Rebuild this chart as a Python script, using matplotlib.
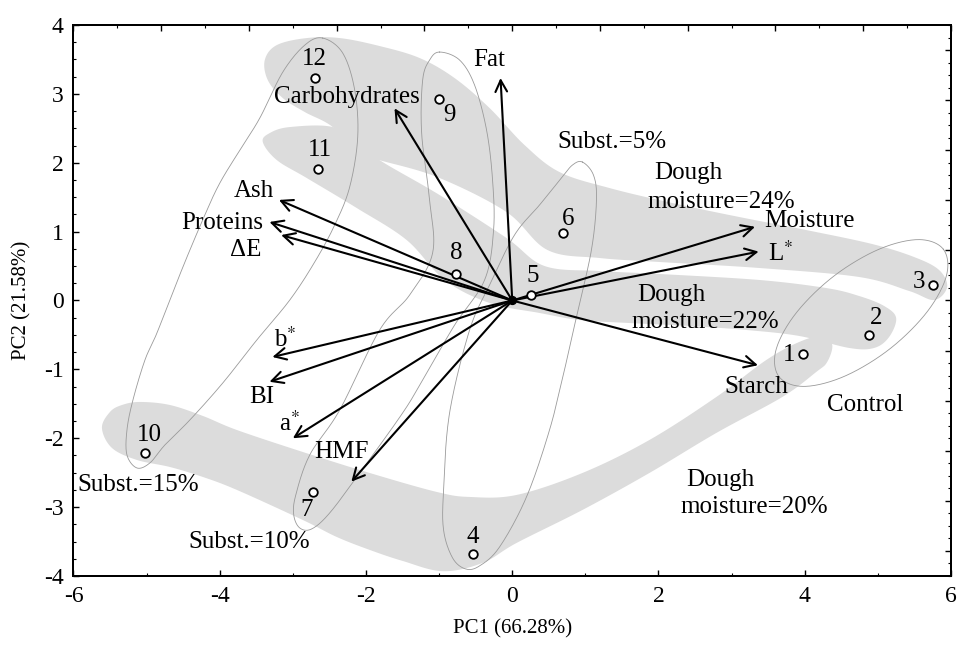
import numpy as np
import matplotlib
matplotlib.use("Agg")
import matplotlib.pyplot as plt
from matplotlib.ticker import MultipleLocator, NullFormatter

plt.rcParams['font.family'] = ['Liberation Serif', 'DejaVu Serif']
plt.rcParams['mathtext.fontset'] = 'stix'
plt.rcParams['axes.unicode_minus'] = False

# ---------------- data ----------------
sample_ids = ['1', '2', '3', '4', '5', '6', '7', '8', '9', '10', '11', '12']
pc1 = [3.97, 4.88, 5.76, -0.53, 0.25, 0.69, -2.73, -0.77, -1.00, -5.02, -2.65, -2.70]
pc2 = [-0.77, -0.50, 0.22, -3.68, 0.08, 0.98, -2.78, 0.39, 2.92, -2.21, 1.91, 3.23]

var_names = ['Fat', 'Carbohydrates', 'Ash', 'Proteins', '\u0394E', 'Moisture',
             'L$^{*}$', 'Starch', 'b$^{*}$', 'BI', 'a$^{*}$', 'HMF']
load1 = [-0.16, -1.61, -3.19, -3.32, -3.16, 3.32, 3.37, 3.36, -3.28, -3.32, -3.00, -2.20]
load2 = [3.23, 2.79, 1.46, 1.14, 0.95, 1.07, 0.71, -0.94, -0.82, -1.18, -2.00, -2.63]

# ---------------- annotation positions ----------------
sample_lab_x = [3.79, 4.97, 5.56, -0.54, 0.28, 0.76, -2.81, -0.77, -0.86, -4.96, -2.63, -2.70]
sample_lab_y = [-0.79, -0.26, 0.27, -3.43, 0.35, 1.19, -3.04, 0.69, 2.69, -1.95, 2.18, 3.50]

var_lab_x = [-0.31, -2.26, -3.53, -3.96, -3.65, 4.06, 3.67, 3.34, -3.11, -3.42, -3.04, -2.33]
var_lab_y = [3.49, 2.96, 1.59, 1.12, 0.73, 1.16, 0.68, -1.25, -0.57, -1.40, -1.78, -2.20]

group_texts = [
    ('Subst.=5%', 1.357, 2.305, 'center'),
    ('Dough', 1.946, 1.846, 'left'),
    ('moisture=24%', 1.850, 1.434, 'left'),
    ('Dough', 1.712, 0.080, 'left'),
    ('moisture=22%', 1.630, -0.308, 'left'),
    ('Dough', 2.381, -2.605, 'left'),
    ('moisture=20%', 2.299, -2.993, 'left'),
    ('Control', 4.833, -1.517, 'center'),
    ('Subst.=15%', -5.119, -2.678, 'center'),
    ('Subst.=10%', -3.602, -3.501, 'center'),
]

# grey bands (dough moisture groups), outline vertices in data units
band24_x = [-3.384, -3.220, -2.810, -2.359, -1.813, -1.266, -0.788, -0.310, 0.168, 0.646, 1.329, 2.190,
            3.105, 4.020, 4.922, 5.496, 5.837, 5.947, 5.770, 5.428, 4.745, 3.378, 2.012, 1.193, 0.482,
            -0.078, -0.993, -1.772, -2.113, -2.455, -2.837, -3.138, -3.343]
band24_y = [3.491, 3.708, 3.810, 3.810, 3.694, 3.520, 3.229, 2.794, 2.257, 1.865, 1.633, 1.415,
            1.212, 1.023, 0.820, 0.631, 0.443, 0.196, 0.007, 0.138, 0.341, 0.472, 0.559, 0.617, 0.733,
            1.284, 1.778, 2.025, 2.112, 2.518, 2.736, 2.939, 3.200]
band22_x = [-3.411, -3.316, -3.042, -2.455, -2.086, -1.772, -0.993, -0.078, 0.441, 1.193, 2.012, 3.378,
            4.294, 4.745, 5.086, 5.250, 5.154, 4.949, 4.608, 3.925, 3.201, 2.422, 1.602, 0.919, 0.373,
            -0.310, -0.925, -1.444, -2.127, -2.810, -3.220]
band22_y = [2.300, 2.431, 2.518, 2.518, 2.257, 2.010, 1.531, 0.907, 0.501, 0.428, 0.385, 0.298,
            0.181, 0.065, -0.080, -0.254, -0.530, -0.689, -0.689, -0.515, -0.428, -0.370, -0.327, -0.283,
            -0.181, -0.036, 0.298, 0.878, 1.343, 1.778, 2.039]
band20_x = [-5.611, -5.501, -5.337, -5.092, -4.682, -4.231, -3.766, -2.865, -1.949, -1.034, -0.583, 0.059,
            0.960, 1.876, 2.791, 3.474, 3.925, 4.239, 4.376, 4.307, 4.157, 3.693, 2.791, 1.876, 0.960,
            0.059, -0.406, -0.950, -1.499, -1.949, -2.400, -2.865, -3.766, -4.231, -4.682, -5.133, -5.474]
band20_y = [-1.851, -1.618, -1.517, -1.473, -1.517, -1.676, -1.880, -2.199, -2.504, -2.779, -2.852, -2.823,
            -2.504, -2.025, -1.401, -0.864, -0.602, -0.515, -0.646, -0.893, -1.038, -1.401, -1.923, -2.504,
            -3.041, -3.520, -3.810, -3.930, -3.781, -3.621, -3.433, -3.186, -2.750, -2.562, -2.417, -2.315,
            -2.141]

# thin outlines (substitution groups)
ctrl_x = [5.895, 5.937, 5.667, 5.157, 4.544, 3.992, 3.649, 3.607, 3.877, 4.387, 5.000, 5.552]
ctrl_y = [0.745, 0.356, -0.174, -0.708, -1.100, -1.247, -1.107, -0.718, -0.189, 0.345, 0.737, 0.884]
s5_x = [0.960, 1.111, 1.152, 1.083, 0.878, 0.714, 0.510, 0.195, -0.173, -0.447, -0.638, -0.816, -0.939,
        -0.939, -0.857, -0.583, -0.310, 0.031, 0.373, 0.673, 0.824]
s5_y = [2.010, 1.821, 1.459, 0.733, -0.239, -1.009, -1.880, -2.852, -3.578, -3.853, -3.897, -3.737, -3.331,
        -2.750, -1.633, -0.428, 0.225, 0.951, 1.386, 1.778, 1.967]
s10_x = [-0.993, -0.720, -0.515, -0.351, -0.269, -0.255, -0.378, -0.788, -1.225, -1.499, -2.086, -2.496,
         -2.742, -2.906, -2.988, -2.960, -2.769, -2.359, -1.813, -1.403, -1.089, -1.130, -1.239, -1.225, -1.130]
s10_y = [3.607, 3.491, 3.128, 2.475, 1.749, 1.023, 0.298, -0.356, -1.154, -1.633, -2.504, -3.084,
         -3.316, -3.302, -3.113, -2.823, -2.242, -1.589, -0.428, 0.080, 0.689, 1.459, 2.431, 3.200, 3.491]
s15_x = [-2.592, -2.318, -2.154, -2.113, -2.223, -2.428, -2.701, -3.042, -3.493, -3.958, -4.408, -4.750,
         -4.955, -5.133, -5.269, -5.269, -5.187, -5.023, -4.859, -4.504, -4.204, -3.999, -3.725, -3.452,
         -3.138, -2.837]
s15_y = [3.810, 3.592, 3.055, 2.373, 1.647, 1.096, 0.559, 0.007, -0.573, -1.197, -1.734, -2.097,
         -2.358, -2.431, -2.242, -1.880, -1.444, -0.864, -0.472, 0.486, 1.241, 1.705, 2.184, 2.649,
         3.316, 3.708]


def closed_spline(xs, ys, n=24):
    P = np.column_stack([xs, ys]).astype(float)
    N = len(P)
    t = np.linspace(0, 1, n, endpoint=False)[:, None]
    segs = []
    for i in range(N):
        p0, p1, p2, p3 = P[(i - 1) % N], P[i], P[(i + 1) % N], P[(i + 2) % N]
        seg = 0.5 * (2 * p1 + (-p0 + p2) * t + (2 * p0 - 5 * p1 + 4 * p2 - p3) * t ** 2
                     + (-p0 + 3 * p1 - 3 * p2 + p3) * t ** 3)
        segs.append(seg)
    out = np.vstack(segs)
    return np.vstack([out, out[:1]])


fig = plt.figure(figsize=(9.57, 6.47), dpi=100)
ax = fig.add_axes([0.0768, 0.1097, 0.9169, 0.8517])
ax.set_xlim(-6, 6)
ax.set_ylim(-4, 4)

band_color = '#dcdcdc'
for bx, by in [(band24_x, band24_y), (band22_x, band22_y), (band20_x, band20_y)]:
    c = closed_spline(bx, by)
    ax.fill(c[:, 0], c[:, 1], color=band_color, lw=0, zorder=1)

for ox, oy in [(ctrl_x, ctrl_y), (s5_x, s5_y), (s10_x, s10_y), (s15_x, s15_y)]:
    c = closed_spline(ox, oy)
    ax.plot(c[:, 0], c[:, 1], color='#9a9a9a', lw=0.6, zorder=2)

# loading arrows
for lx, ly in zip(load1, load2):
    ax.annotate('', xy=(lx, ly), xytext=(0, 0),
                arrowprops=dict(arrowstyle='->,head_length=0.55,head_width=0.28',
                                color='black', lw=1.5, shrinkA=0, shrinkB=0,
                                mutation_scale=15),
                zorder=3)
ax.scatter([0], [0], s=32, color='black', zorder=4)

# sample points
ax.scatter(pc1, pc2, s=38, facecolors='white', edgecolors='black', linewidths=1.3, zorder=5)

fs = 18
for lab, x, y in zip(sample_ids, sample_lab_x, sample_lab_y):
    ax.text(x, y, lab, fontsize=fs, ha='center', va='center', zorder=6)
for lab, x, y in zip(var_names, var_lab_x, var_lab_y):
    ax.text(x, y, lab, fontsize=fs, ha='center', va='center', zorder=6)
for lab, x, y, ha in group_texts:
    ax.text(x, y, lab, fontsize=fs, ha=ha, va='center', zorder=6)

# axes styling
for sp in ax.spines.values():
    sp.set_linewidth(1.3)
ax.xaxis.set_major_locator(MultipleLocator(2))
ax.xaxis.set_minor_locator(MultipleLocator(1))
ax.yaxis.set_major_locator(MultipleLocator(1))
ax.yaxis.set_minor_locator(MultipleLocator(0.25))
ax.tick_params(which='both', direction='in', top=False, right=False, labelsize=17, pad=7)
ax.tick_params(which='major', length=4, width=1.0)
ax.tick_params(which='minor', length=2.5, width=0.8)
ax.set_xlabel('PC1 (66.28%)', fontsize=15, labelpad=9)
ax.set_ylabel('PC2 (21.58%)', fontsize=15, labelpad=9)

# secondary scales (top / right)
axt = ax.twiny()
axt.set_xlim(ax.get_xlim())
axt.xaxis.set_major_locator(MultipleLocator(1.2))
axt.xaxis.set_minor_locator(MultipleLocator(0.6))
axt.xaxis.set_major_formatter(NullFormatter())
axt.tick_params(which='both', direction='in')
axt.tick_params(which='major', length=4, width=1.0)
axt.tick_params(which='minor', length=2.5, width=0.8)
axr = ax.twinx()
axr.set_ylim(ax.get_ylim())
axr.yaxis.set_major_locator(MultipleLocator(0.726))
axr.yaxis.set_minor_locator(MultipleLocator(0.1815))
axr.yaxis.set_major_formatter(NullFormatter())
axr.tick_params(which='both', direction='in')
axr.tick_params(which='major', length=4, width=1.0)
axr.tick_params(which='minor', length=2.5, width=0.8)
for a in (axt, axr):
    for sp in a.spines.values():
        sp.set_linewidth(1.3)

fig.savefig('out.png', dpi=100)
